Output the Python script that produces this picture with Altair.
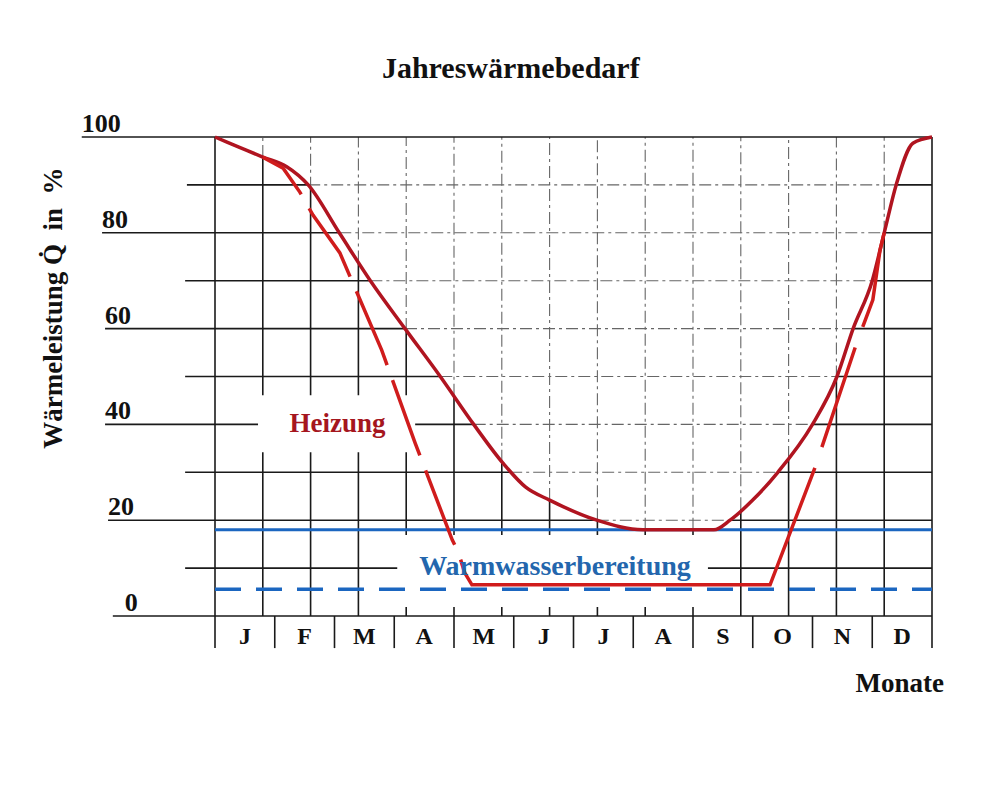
import altair as alt
import pandas as pd

# ---------------- values ----------------
months = ["J", "F", "M", "A", "M", "J", "J", "A", "S", "O", "N", "D"]
month_edges = [0, 1, 2, 3, 4, 5, 6, 7, 8, 9, 10, 11, 12]

# Heizung (solid curve), x in months, y in %
heat_x = [0, 0.4, 0.8, 1.2, 1.56, 2.08, 2.6, 3.18, 3.77, 4.33, 4.82, 5.2, 5.6, 6.39,
          7.16, 8.35, 8.62, 9.0, 9.42, 10.0, 10.41, 10.68, 11.0, 11.2, 11.4, 11.68, 12]
heat_y = [100, 97.9, 95.8, 93.8, 90, 80, 70, 60, 50, 40, 31.9, 26.9, 24.2, 20,
          18, 18, 20, 24.2, 30, 40, 50, 60, 70, 80, 90, 98.7, 100]

# Heizung with summer shut-off (dashed red)
red_left_x = [0.8, 1.14, 1.42, 1.64, 2.09, 2.79, 3.35, 3.97, 4.07, 4.18]
red_left_y = [95.8, 93.5, 88.5, 83.7, 75.8, 55.5, 36.1, 15.9, 13.4, 9.0]
red_base_x = [4.18, 4.30, 9.29, 10.04]
red_base_y = [9.0, 6.5, 6.5, 30.9]
red_right_x = [10.04, 10.74, 11.01, 11.13, 11.2]
red_right_y = [30.9, 57, 66, 76.4, 80]

# Warmwasserbereitung levels (%)
ww_level = 18.0
ww_base = 5.6

# grid: vertical lines and the height up to which they are solid (below the curve)
grid_x = [0, 0.8, 1.6, 2.4, 3.2, 4.0, 4.8, 5.6, 6.4, 7.2, 8.0, 8.8, 9.6, 10.4, 11.2, 12]
grid_solid_top = [100, 95.8, 89.2, 73.8, 59.7, 46, 32.2, 24.2, 20, 18, 18, 22.3, 33, 49.8, 80, 100]

# grid: horizontal lines, left start and where they cross the curve
h_levels = [100, 90, 80, 70, 60, 50, 40, 30, 20, 10, 0]
h_start = [-2.23, -0.47, -1.89, -0.50, -1.84, -0.50, -1.84, -0.50, -1.79, -0.50, -1.71]
h_cross_left = [None, 1.56, 2.08, 2.6, 3.18, 3.77, 4.33, 4.94, 6.39, None, None]
h_cross_right = [None, 11.4, 11.2, 11.0, 10.68, 10.41, 10.0, 9.42, 8.62, None, None]

tick_labels = ["100", "80", "60", "40", "20", "0"]
tick_values = [100, 80, 60, 40, 20, 0]
tick_label_x = [-2.23, -1.89, -1.84, -1.84, -1.79, -1.51]

# annotation boxes behind the series labels (months / %)
box_x0 = [0.72, 3.05]
box_x1 = [3.35, 8.25]
box_y0 = [34.2, 1.9]
box_y1 = [46.1, 16.9]

# texts: title, axis titles, series labels (position in months / %)
texts = ["Jahreswärmebedarf", "Monate", "Wärmeleistung Q\u0307\u00a0\u00a0in\u00a0\u00a0%",
         "Heizung", "Warmwasserbereitung"]
text_x = [4.95, 11.46, -2.56, 2.05, 5.69]
text_y = [112.3, -15.87, 64.3, 38.4, 8.56]

# ---------------- tables ----------------
v_solid = pd.DataFrame({"x": grid_x, "y0": [0] * len(grid_x), "y1": grid_solid_top})
v_dash = pd.DataFrame([{"x": x, "y0": t, "y1": 100}
                       for x, t in zip(grid_x, grid_solid_top) if t < 100])
h_solid_rows, h_dash_rows = [], []
for lvl, s, cl, cr in zip(h_levels, h_start, h_cross_left, h_cross_right):
    if cl is None:
        h_solid_rows.append({"x0": s, "x1": 12, "y": lvl})
    else:
        h_solid_rows.append({"x0": s, "x1": cl, "y": lvl})
        h_solid_rows.append({"x0": cr, "x1": 12, "y": lvl})
        h_dash_rows.append({"x0": cl, "x1": cr, "y": lvl})
h_solid = pd.DataFrame(h_solid_rows)
h_dash = pd.DataFrame(h_dash_rows)

edges = pd.DataFrame({"x": month_edges, "y0": [0] * len(month_edges),
                      "y1": [-6.7] * len(month_edges)})
month_df = pd.DataFrame({"m": months, "x": [i + 0.5 for i in range(12)],
                         "y": [-5.85] * 12})
ticks_df = pd.DataFrame({"t": tick_labels, "v": tick_values, "x": tick_label_x})
boxes = pd.DataFrame({"x0": box_x0, "x1": box_x1, "y0": box_y0, "y1": box_y1})
heat = pd.DataFrame({"x": heat_x, "y": heat_y})
red_left = pd.DataFrame({"x": red_left_x, "y": red_left_y})
red_base = pd.DataFrame({"x": red_base_x, "y": red_base_y})
red_right = pd.DataFrame({"x": red_right_x, "y": red_right_y})
ww = pd.DataFrame({"y": [ww_level, ww_base], "k": ["solid", "dashed"],
                   "x0": [0, 0], "x1": [12, 12]})
text_df = pd.DataFrame({"t": texts, "x": text_x, "y": text_y})

# ---------------- scales / styles ----------------
FONT = "Liberation Serif"
xs = alt.Scale(domain=[0, 12], nice=False, zero=False)
ys = alt.Scale(domain=[0, 100], nice=False, zero=False)
GRID_C = "#1a1a1a"
DASH_C = "#666666"
RED_SOLID = "#b01420"
RED_DASH = "#d01c1c"
BLUE = "#1b66c0"


def X(f):
    return alt.X(f, type="quantitative", scale=xs, axis=None)


def Y(f):
    return alt.Y(f, type="quantitative", scale=ys, axis=None)


def label(name, size, color, angle=0):
    return alt.Chart(text_df).transform_filter(alt.datum.t == name).mark_text(
        font=FONT, fontSize=size, fontWeight="bold", color=color, align="center",
        baseline="alphabetic", angle=angle).encode(x=X("x"), y=Y("y"), text="t:N")


grid_dash_v = alt.Chart(v_dash).mark_rule(color=DASH_C, strokeWidth=1.1,
                                          strokeDash=[12, 4, 3, 4]).encode(
    x=X("x"), y=Y("y0"), y2="y1")
grid_dash_h = alt.Chart(h_dash).mark_rule(color=DASH_C, strokeWidth=1.1,
                                          strokeDash=[12, 4, 3, 4]).encode(
    x=X("x0"), x2="x1", y=Y("y"))
grid_solid_v = alt.Chart(v_solid).mark_rule(color=GRID_C, strokeWidth=1.6).encode(
    x=X("x"), y=Y("y0"), y2="y1")
grid_solid_h = alt.Chart(h_solid).mark_rule(color=GRID_C, strokeWidth=1.6).encode(
    x=X("x0"), x2="x1", y=Y("y"))
edge_rules = alt.Chart(edges).mark_rule(color=GRID_C, strokeWidth=1.6).encode(
    x=X("x"), y=Y("y0"), y2="y1")

box_layer = alt.Chart(boxes).mark_rect(color="white").encode(
    x=X("x0"), x2="x1", y=Y("y0"), y2="y1")

ww_solid = alt.Chart(ww).transform_filter(alt.datum.k == "solid").mark_rule(
    color=BLUE, strokeWidth=3).encode(x=X("x0"), x2="x1", y=Y("y"))
ww_dashed = alt.Chart(ww).transform_filter(alt.datum.k == "dashed").mark_rule(
    color=BLUE, strokeWidth=3.5, strokeDash=[26, 15]).encode(x=X("x0"), x2="x1", y=Y("y"))

heat_line = alt.Chart(heat).mark_line(color=RED_SOLID, strokeWidth=3.5,
                                      interpolate="monotone").encode(x=X("x"), y=Y("y"))
red_l = alt.Chart(red_left).mark_line(color=RED_DASH, strokeWidth=3.5,
                                      strokeDash=[80, 16], strokeDashOffset=25).encode(
    x=X("x"), y=Y("y"))
red_b = alt.Chart(red_base).mark_line(color=RED_DASH, strokeWidth=3.5).encode(
    x=X("x"), y=Y("y"))
red_r = alt.Chart(red_right).mark_line(color=RED_DASH, strokeWidth=3.5,
                                       strokeDash=[105, 22], strokeDashOffset=105).encode(
    x=X("x"), y=Y("y"))

tick_text = alt.Chart(ticks_df).mark_text(font=FONT, fontSize=26, fontWeight="bold",
                                          color="#111", align="left",
                                          baseline="alphabetic", dy=-5).encode(
    x=X("x"), y=Y("v"), text="t:N")
month_text = alt.Chart(month_df).mark_text(font=FONT, fontSize=24, fontWeight="bold",
                                           color="#111", align="center",
                                           baseline="alphabetic").encode(
    x=X("x"), y=Y("y"), text="m:N")

chart = alt.layer(
    grid_dash_v, grid_dash_h, grid_solid_v, grid_solid_h, edge_rules,
    box_layer, ww_solid, ww_dashed, heat_line, red_l, red_b, red_r,
    tick_text, month_text,
    label("Jahreswärmebedarf", 30, "#111"),
    label("Monate", 27, "#111"),
    label(texts[2], 27, "#111", angle=270),
    label("Heizung", 27, "#a5161e"),
    label("Warmwasserbereitung", 28, "#2366ad"),
).properties(
    width=717, height=479,
    autosize=alt.AutoSizeParams(type="none"),
    padding={"left": 207, "top": 129, "right": 62, "bottom": 180},
    background="white",
).configure_view(stroke=None)

chart.save("out.html", embed_options={"renderer": "svg", "actions": False})
